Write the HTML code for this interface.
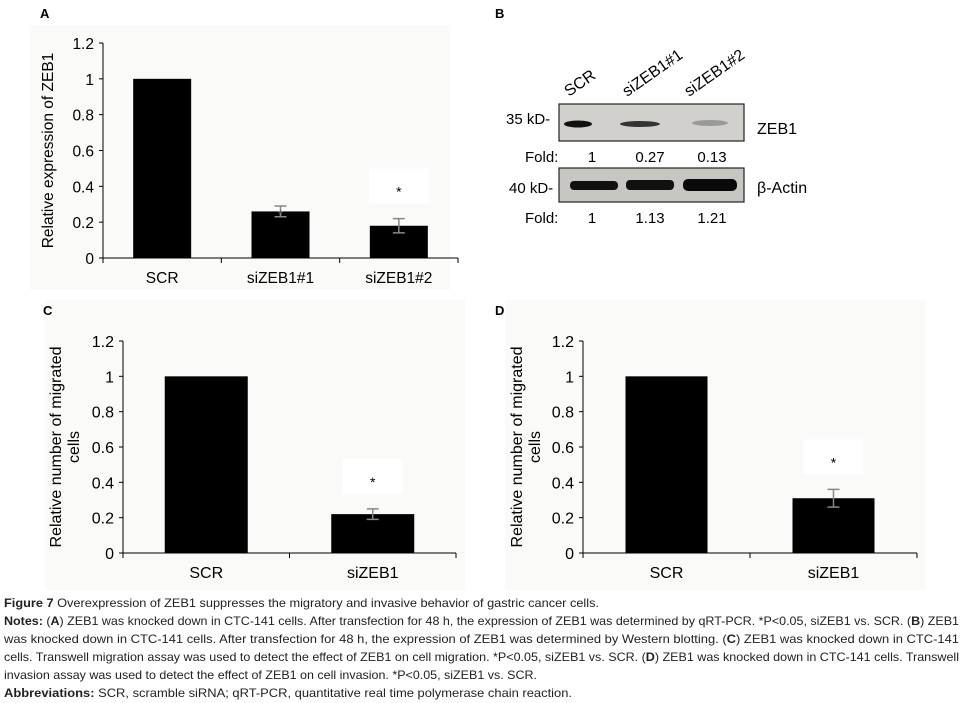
<!DOCTYPE html>
<html><head><meta charset="utf-8"><style>
body{margin:0;background:#fff;font-family:"Liberation Sans",sans-serif}
svg{display:block}
</style></head><body>
<svg id="fig" width="963" height="703" viewBox="0 0 963 703" xmlns="http://www.w3.org/2000/svg" font-family="Liberation Sans, sans-serif">
<rect x="30" y="25" width="420" height="265" fill="#fafaf8"/>
<rect x="45" y="300" width="420" height="290" fill="#fafaf8"/>
<rect x="505" y="300" width="420" height="290" fill="#fafaf8"/>
<text x="40" y="18" font-size="13" font-weight="bold">A</text>
<text x="495" y="18" font-size="13" font-weight="bold">B</text>
<text x="43" y="315" font-size="13" font-weight="bold">C</text>
<text x="495" y="315" font-size="13" font-weight="bold">D</text>

<g id="blot">
  <rect x="497" y="65" width="300" height="165" fill="#fff"/>
  <text transform="translate(569,97) rotate(-35)" font-size="16">SCR</text>
  <text transform="translate(627,97) rotate(-35)" font-size="16">siZEB1#1</text>
  <text transform="translate(689,97) rotate(-35)" font-size="16">siZEB1#2</text>
  <text x="506" y="124" font-size="15">35 kD-</text>
  <rect x="559" y="104" width="185" height="37" fill="#d2d0cd" stroke="#222" stroke-width="1.2"/>
  <ellipse cx="578" cy="124" rx="14" ry="3.5" fill="#111"/>
  <ellipse cx="640" cy="124" rx="20" ry="3" fill="#333"/>
  <ellipse cx="710" cy="123" rx="18" ry="3" fill="#999"/>
  <text x="757" y="134" font-size="16">ZEB1</text>
  <text x="525" y="162" font-size="15">Fold:</text>
  <text x="592" y="162" font-size="15" text-anchor="middle">1</text>
  <text x="650" y="162" font-size="15" text-anchor="middle">0.27</text>
  <text x="712" y="162" font-size="15" text-anchor="middle">0.13</text>
  <text x="509" y="193" font-size="15">40 kD-</text>
  <rect x="559" y="168" width="185" height="34" fill="#c8c6c3" stroke="#222" stroke-width="1.2"/>
  <rect x="570" y="181" width="48" height="9" rx="4" fill="#111"/>
  <rect x="626" y="180" width="48" height="10" rx="4" fill="#111"/>
  <rect x="683" y="179" width="54" height="12" rx="5" fill="#0a0a0a"/>
  <text x="757" y="193" font-size="16">β-Actin</text>
  <text x="525" y="223" font-size="15">Fold:</text>
  <text x="592" y="223" font-size="15" text-anchor="middle">1</text>
  <text x="650" y="223" font-size="15" text-anchor="middle">1.13</text>
  <text x="712" y="223" font-size="15" text-anchor="middle">1.21</text>
</g>

<g id="capt" font-family="Liberation Sans, sans-serif" font-size="12" fill="#222">
<text x="4" y="607" textLength="595" lengthAdjust="spacingAndGlyphs"><tspan font-weight="bold">Figure 7</tspan> Overexpression of ZEB1 suppresses the migratory and invasive behavior of gastric cancer cells.</text>
<text x="4" y="625" textLength="955" lengthAdjust="spacingAndGlyphs"><tspan font-weight="bold">Notes:</tspan> (<tspan font-weight="bold">A</tspan>) ZEB1 was knocked down in CTC-141 cells. After transfection for 48 h, the expression of ZEB1 was determined by qRT-PCR. *P&lt;0.05, siZEB1 vs. SCR. (<tspan font-weight="bold">B</tspan>) ZEB1</text>
<text x="4" y="643" textLength="955" lengthAdjust="spacingAndGlyphs">was knocked down in CTC-141 cells. After transfection for 48 h, the expression of ZEB1 was determined by Western blotting. (<tspan font-weight="bold">C</tspan>) ZEB1 was knocked down in CTC-141</text>
<text x="4" y="661" textLength="955" lengthAdjust="spacingAndGlyphs">cells. Transwell migration assay was used to detect the effect of ZEB1 on cell migration. *P&lt;0.05, siZEB1 vs. SCR. (<tspan font-weight="bold">D</tspan>) ZEB1 was knocked down in CTC-141 cells. Transwell</text>
<text x="4" y="679" textLength="533" lengthAdjust="spacingAndGlyphs">invasion assay was used to detect the effect of ZEB1 on cell invasion. *P&lt;0.05, siZEB1 vs. SCR.</text>
<text x="4" y="697" textLength="568" lengthAdjust="spacingAndGlyphs"><tspan font-weight="bold">Abbreviations:</tspan> SCR, scramble siRNA;  qRT-PCR, quantitative real time polymerase chain reaction.</text>
</g>
</svg>
<script>
const catsA = ["SCR", "siZEB1#1", "siZEB1#2"];
const valsA = [1.0, 0.26, 0.18];
const errA = [0, 0.03, 0.04];
const starA = [0, 1, 2];
const catsC = ["SCR", "siZEB1"];
const valsC = [1.0, 0.22];
const errC = [0, 0.03];
const starC = [0, 2];
const catsD = ["SCR", "siZEB1"];
const valsD = [1.0, 0.31];
const errD = [0, 0.05];
const starD = [0, 2];
const yTicks = ["0", "0.2", "0.4", "0.6", "0.8", "1", "1.2"];
const yMax = 1.2;

const NS = "http://www.w3.org/2000/svg";
const svg = document.getElementById("fig");
function mk(tag, attrs, parent, txt) {
  const e = document.createElementNS(NS, tag);
  for (const k in attrs) e.setAttribute(k, attrs[k]);
  if (txt !== undefined) e.textContent = txt;
  parent.appendChild(e);
  return e;
}
// star mode: 0 none, 1 star on bar top (no box), 2 star above error bar in white box
function chart(id, cfg, cats, vals, errs, stars) {
  const g = mk("g", {}, svg);
  
  
  const {x0, x1, y0, y1, barW, title, tx, fs} = cfg;
  const ys = v => y0 - (v / yMax) * (y0 - y1);
  const cw = (x1 - x0) / cats.length;
  const xs = i => x0 + cw * (i + 0.5);
  yTicks.forEach(t => {
    const y = ys(parseFloat(t));
    const tk = mk("line", {x1: x0 - 4, x2: x0, y1: y, y2: y, stroke: "#000"}, g);
    
    
    const lb = mk("text", {x: x0 - 9, y: y + 6, "text-anchor": "end", "font-size": fs}, g, t);
    
    
  });
  const ya = mk("line", {x1: x0, x2: x0, y1: y1, y2: y0, stroke: "#000"}, g);
  
  
  cats.forEach((c, i) => {
    const cx = xs(i);
    const v = vals[i];
    if (stars[i] === 2) {
      const wb = mk("rect", {x: cx - 30, y: ys(v + errs[i]) - 50, width: 60, height: 35, fill: "#fff"}, g);
      
      
    }
    const b = mk("rect", {x: cx - barW / 2, y: ys(v), width: barW, height: y0 - ys(v), fill: "#000"}, g);
    
    
    if (errs[i] > 0) {
      const e = errs[i];
      const ep = mk("path", {d: `M${cx},${ys(v - e)}V${ys(v + e)}M${cx - 6},${ys(v - e)}h12M${cx - 6},${ys(v + e)}h12`, stroke: "#888", "stroke-width": 1.5, fill: "none"}, g);
      
      
    }
    if (stars[i] > 0) {
      const sy = stars[i] === 2 ? ys(v + errs[i]) - 22 : ys(v) + 8;
      const s = mk("text", {x: cx, y: sy, "text-anchor": "middle", "font-size": 14, fill: stars[i] === 2 ? "#000" : "#555"}, g, "*");
      
      
    }
    const xl = mk("text", {x: cx, y: y0 + 25, "text-anchor": "middle", "font-size": fs}, g, c);
    
    
  });
  for (let i = 0; i <= cats.length; i++) {
    const x = x0 + cw * i;
    const t = mk("line", {x1: x, x2: x, y1: y0, y2: y0 + 5, stroke: "#000"}, g);
    
    
  }
  const xa = mk("line", {x1: x0 - 4, x2: x1, y1: y0, y2: y0, stroke: "#000"}, g);
  
  
  const yt = mk("text", {transform: `translate(${tx},${(y0 + y1) / 2}) rotate(-90)`, "text-anchor": "middle", "font-size": fs}, g);
  
  
  title.forEach((ln, k) => {
    mk("tspan", {x: 0, dy: k === 0 ? 0 : 18}, yt, ln);
  });
}
chart("a", {x0: 103, x1: 458, y0: 258, y1: 43, barW: 58, title: ["Relative expression of ZEB1"], tx: 53, fs: 15.5}, catsA, valsA, errA, starA);
chart("c", {x0: 123, x1: 456, y0: 553, y1: 341, barW: 83, title: ["Relative number of migrated", "cells"], tx: 61, fs: 16}, catsC, valsC, errC, starC);
chart("d", {x0: 583, x1: 917, y0: 553, y1: 341, barW: 82, title: ["Relative number of migrated", "cells"], tx: 522, fs: 16}, catsD, valsD, errD, starD);
</script>
</body></html>
